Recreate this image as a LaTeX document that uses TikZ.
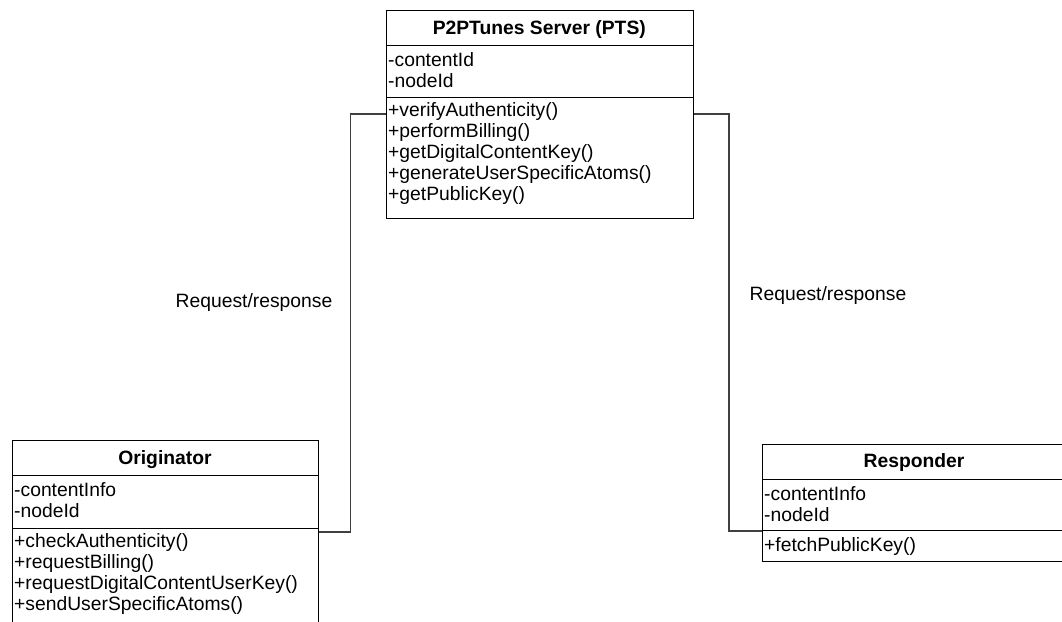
\documentclass[tikz,border=0pt]{standalone}
\usepackage{fontspec}
\setmainfont{Liberation Sans}
\usetikzlibrary{calc}
\begin{document}
\begin{tikzpicture}[x=1pt,y=-1pt,
  compart/.style={draw=black, line width=1.4pt, fill=white, inner sep=0pt, anchor=north west},
  member/.style={anchor=base west, inner sep=0pt, font=\fontsize{19.3}{21}\selectfont},
  ctitle/.style={anchor=base, inner sep=0pt, font=\fontsize{19.3}{21}\selectfont\bfseries},
  link/.style={draw=black!75, line width=1.1pt},
  linklabel/.style={anchor=base, inner sep=0pt, font=\fontsize{19.3}{21}\selectfont}]
\useasboundingbox (0,0) rectangle (1062,621);

% ---- P2PTunes Server class ----
\node[compart, minimum width=306.5pt, minimum height=35pt]   (pts-head) at (386,10) {};
\node[compart, minimum width=306.5pt, minimum height=52pt]   (pts-attr) at (386,45) {};
\node[compart, minimum width=306.5pt, minimum height=120.5pt] (pts-ops) at (386,97) {};
\node[ctitle] (pts-title) at (539.3,34) {P2PTunes Server (PTS)};
\node[member] (pts-a1) at (388,66)  {-contentId};
\node[member] (pts-a2) at (388,87.5) {-nodeId};
\node[member] (pts-m1) at (388,116) {+verifyAuthenticity()};
\node[member] (pts-m2) at (388,137) {+performBilling()};
\node[member] (pts-m3) at (388,158) {+getDigitalContentKey()};
\node[member] (pts-m4) at (388,179) {+generateUserSpecificAtoms()};
\node[member] (pts-m5) at (388,200) {+getPublicKey()};

% ---- Originator class ----
\node[compart, minimum width=306pt, minimum height=35pt]  (orig-head) at (12,440) {};
\node[compart, minimum width=306pt, minimum height=53pt]  (orig-attr) at (12,475) {};
\node[compart, minimum width=306pt, minimum height=112pt] (orig-ops)  at (12,528) {};
\node[ctitle] (orig-title) at (165,464) {Originator};
\node[member] (orig-a1) at (14,496) {-contentInfo};
\node[member] (orig-a2) at (14,517) {-nodeId};
\node[member] (orig-m1) at (14,547) {+checkAuthenticity()};
\node[member] (orig-m2) at (14,568) {+requestBilling()};
\node[member] (orig-m3) at (14,589) {+requestDigitalContentUserKey()};
\node[member] (orig-m4) at (14,610) {+sendUserSpecificAtoms()};

% ---- Responder class ----
\node[compart, minimum width=304pt, minimum height=35pt] (resp-head) at (762,444) {};
\node[compart, minimum width=304pt, minimum height=51pt] (resp-attr) at (762,479) {};
\node[compart, minimum width=304pt, minimum height=31pt] (resp-ops)  at (762,530) {};
\node[ctitle] (resp-title) at (914,467) {Responder};
\node[member] (resp-a1) at (764,500) {-contentInfo};
\node[member] (resp-a2) at (764,521) {-nodeId};
\node[member] (resp-m1) at (764,551) {+fetchPublicKey()};

% ---- associations ----
\coordinate (lbend) at (350.5,300);
\coordinate (rbend) at (729,300);
\draw[link] ($(pts-ops.north west)+(0,17)$) -| (lbend) |- ($(orig-ops.north east)+(0,4)$);
\draw[link] ($(pts-ops.north east)+(0,17)$) -| (rbend) |- ($(resp-ops.north west)+(0,1)$);
\node[linklabel] (lbl-left)  at (254,307) {Request/response};
\node[linklabel] (lbl-right) at (828,300) {Request/response};
\end{tikzpicture}
\end{document}
